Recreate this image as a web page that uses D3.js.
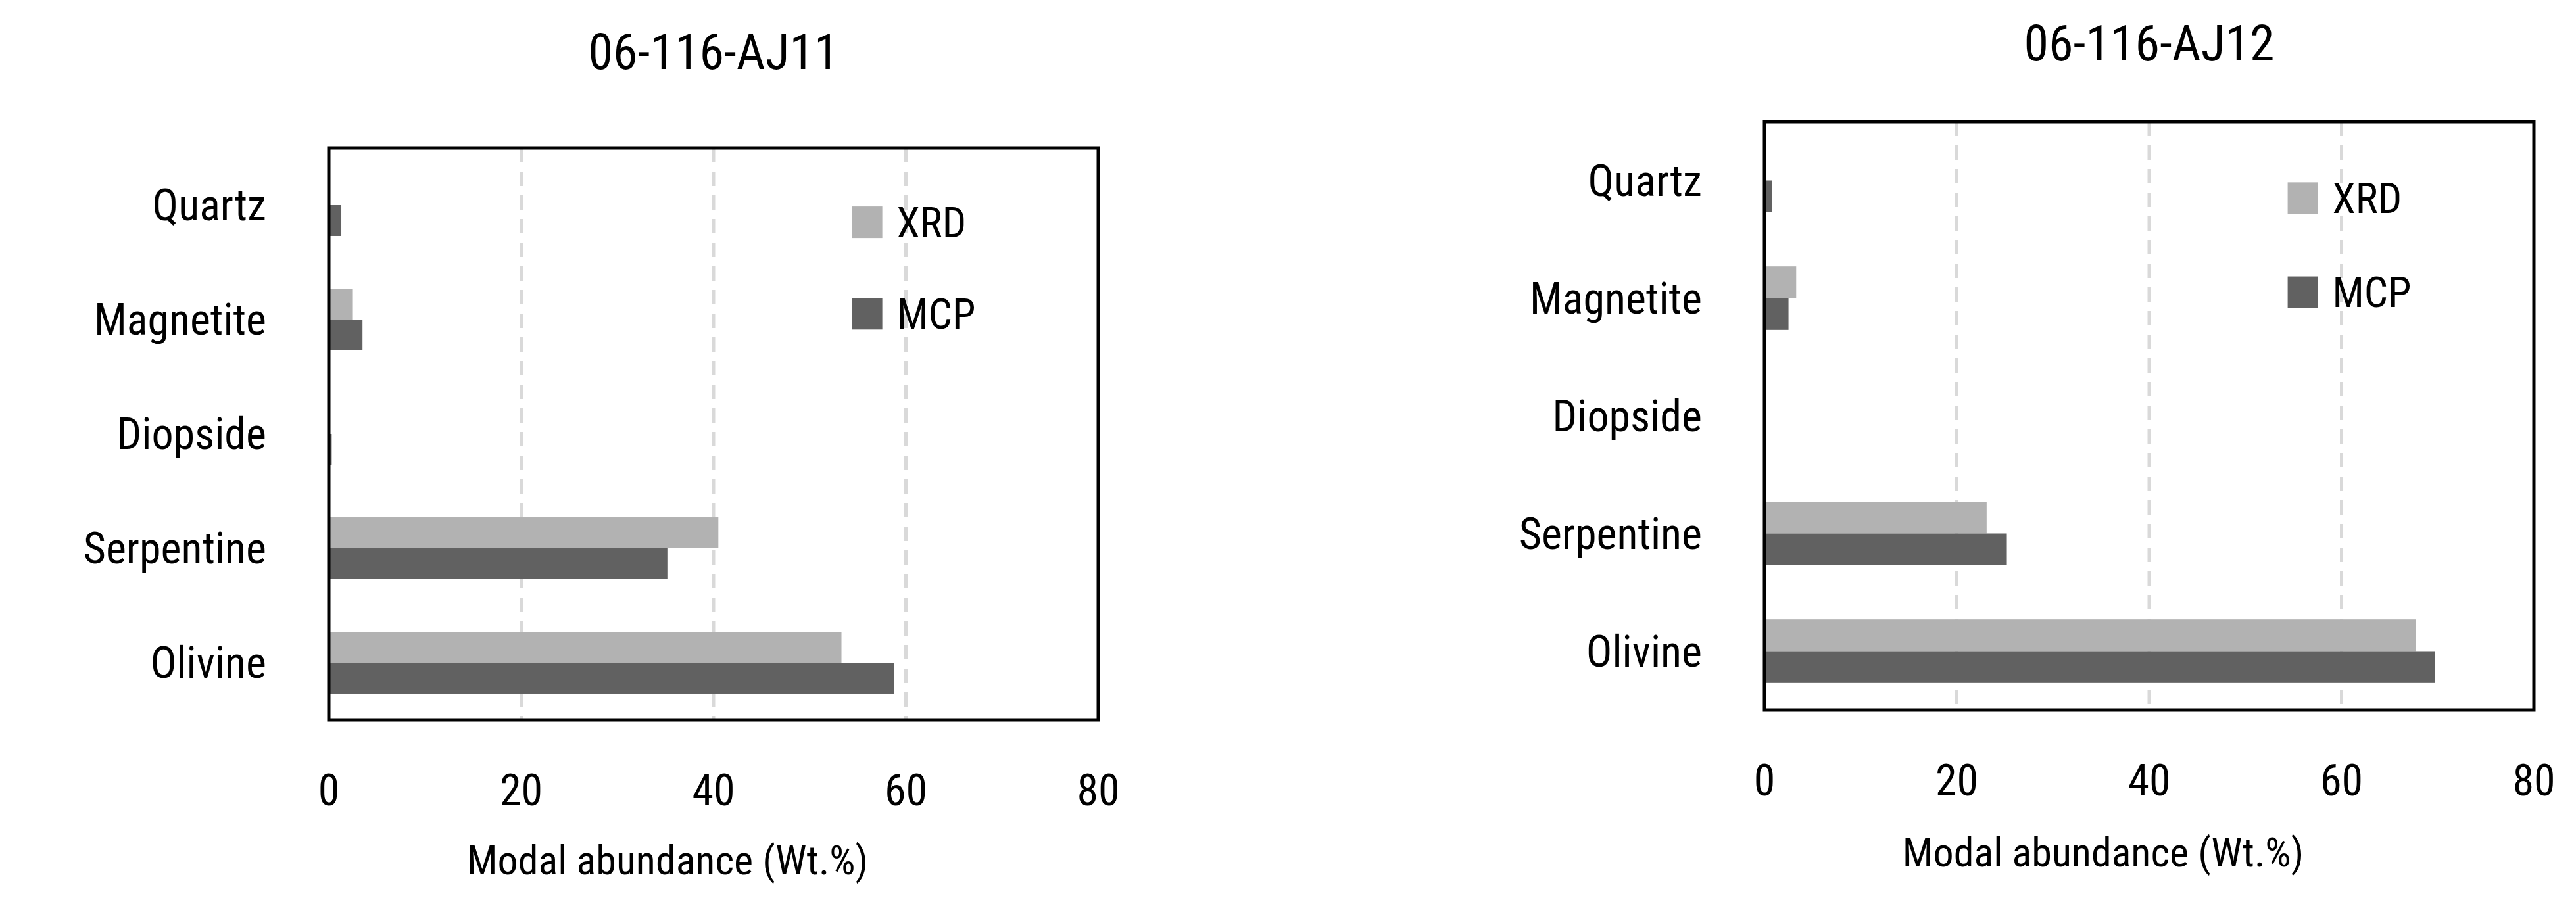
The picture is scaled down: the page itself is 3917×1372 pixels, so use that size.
<!DOCTYPE html>
<html>
<head>
<meta charset="utf-8">
<script src="https://cdn.jsdelivr.net/npm/d3@7"></script>
<style>
  body { margin: 0; background: #fff; }
  text { font-family: "Liberation Sans Narrow", "Roboto Condensed", Roboto, sans-serif; fill: #000; }
</style>
</head>
<body>
<script>
const minerals = ["Olivine", "Serpentine", "Diopside", "Magnetite", "Quartz"];
const seriesNames = ["XRD", "MCP"];
const seriesColors = ["#b2b2b2", "#616161"];
const xTicks = [0, 20, 40, 60, 80];

const aj11Xrd = [53.3, 40.5, 0, 2.5, 0];
const aj11Mcp = [58.8, 35.2, 0.3, 3.5, 1.3];
const aj12Xrd = [67.7, 23.1, 0, 3.3, 0];
const aj12Mcp = [69.7, 25.2, 0.2, 2.5, 0.8];

const panels = [
  { title: "06-116-AJ11", xrd: aj11Xrd, mcp: aj11Mcp, x0: 500, x1: 1670, y0: 225, y1: 1095, titleY: 105, tickY: 1225, labelY: 1330 },
  { title: "06-116-AJ12", xrd: aj12Xrd, mcp: aj12Mcp, x0: 2683, x1: 3853, y0: 185, y1: 1080, titleY: 92, tickY: 1210, labelY: 1318 }
];

const svg = d3.select("body").append("svg")
  .attr("width", 3917).attr("height", 1372);

panels.forEach(p => {
  const g = svg.append("g");
  const x = d3.scaleLinear().domain([0, 80]).range([p.x0, p.x1]);
  // Olivine at the bottom
  const y = d3.scaleBand().domain(minerals).range([p.y1, p.y0]).paddingInner(0.46).paddingOuter(0.23);
  const ySub = d3.scaleBand().domain(seriesNames).range([0, y.bandwidth()]);

  // dashed gridlines
  g.selectAll(".grid").data(xTicks.filter(t => t > 0 && t < 80)).enter()
    .append("line")
    .attr("x1", d => x(d)).attr("x2", d => x(d))
    .attr("y1", p.y0).attr("y2", p.y1)
    .attr("stroke", "#d9d9d9").attr("stroke-width", 5).attr("stroke-dasharray", "22,14");

  // bars
  minerals.forEach((m, i) => {
    const vals = [p.xrd[i], p.mcp[i]];
    g.selectAll(null).data(vals).enter().append("rect")
      .attr("x", x(0))
      .attr("y", (d, j) => y(m) + ySub(seriesNames[j]))
      .attr("width", d => x(d) - x(0))
      .attr("height", ySub.bandwidth())
      .attr("fill", (d, j) => seriesColors[j]);
  });

  // frame
  g.append("rect")
    .attr("x", p.x0).attr("y", p.y0)
    .attr("width", p.x1 - p.x0).attr("height", p.y1 - p.y0)
    .attr("fill", "none").attr("stroke", "#000").attr("stroke-width", 5);

  // category labels
  g.selectAll(".cat").data(minerals).enter().append("text")
    .attr("x", p.x0 - 95)
    .attr("y", d => y(d) + y.bandwidth() / 2)
    .attr("dy", "0.35em")
    .attr("text-anchor", "end")
    .attr("font-size", 66)
    .text(d => d);

  // x ticks
  g.selectAll(".tick").data(xTicks).enter().append("text")
    .attr("x", d => x(d)).attr("y", p.tickY)
    .attr("text-anchor", "middle").attr("font-size", 66)
    .text(d => d);

  g.append("text")
    .attr("x", (p.x0 + p.x1) / 2 - 70).attr("y", p.labelY)
    .attr("text-anchor", "middle").attr("font-size", 62)
    .text("Modal abundance (Wt.%)");

  g.append("text")
    .attr("x", (p.x0 + p.x1) / 2 + 0).attr("y", p.titleY)
    .attr("text-anchor", "middle").attr("font-size", 76)
    .text(p.title);

  // legend
  const fh = p.y1 - p.y0, fw = p.x1 - p.x0;
  seriesNames.forEach((s, j) => {
    const ly = p.y0 + fh * (0.13 + j * 0.16);
    g.append("rect")
      .attr("x", p.x0 + fw * 0.68).attr("y", ly - 24)
      .attr("width", 46).attr("height", 48)
      .attr("fill", seriesColors[j]);
    g.append("text")
      .attr("x", p.x0 + fw * 0.738).attr("y", ly)
      .attr("dy", "0.35em").attr("font-size", 64)
      .text(s);
  });
});
</script>
</body>
</html>
